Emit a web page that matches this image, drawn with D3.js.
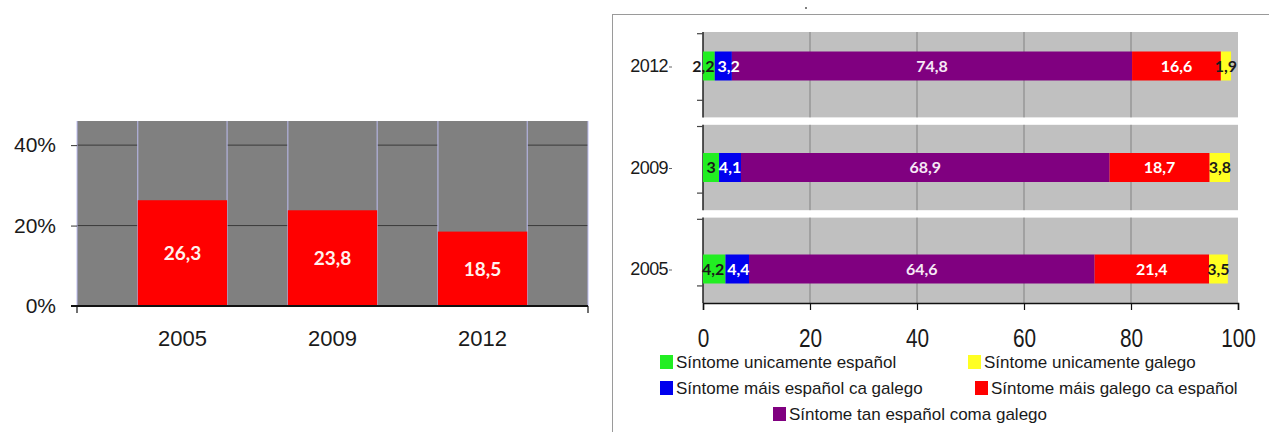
<!DOCTYPE html>
<html>
<head>
<meta charset="utf-8">
<script src="https://cdn.jsdelivr.net/npm/d3@7"></script>
<style>
  html, body { margin: 0; padding: 0; background: #fff; }
  svg { display: block; }
</style>
</head>
<body>
<svg id="chart" width="1269" height="432"></svg>
<script>
// ---- Left chart: share answering "máis galego ca español" ----
const years = ["2005", "2009", "2012"];
const shareGalegoFirst = [26.3, 23.8, 18.5];
const leftTicks = [0, 20, 40];

// ---- Right chart: identity distribution by survey year ----
const surveyYears = ["2012", "2009", "2005"];
const seriesNames = [
  "Síntome unicamente español",
  "Síntome máis español ca galego",
  "Síntome tan español coma galego",
  "Síntome máis galego ca español",
  "Síntome unicamente galego"
];
const onlySpanish   = [2.2, 3, 4.2];
const moreSpanish   = [3.2, 4.1, 4.4];
const bothEqual     = [74.8, 68.9, 64.6];
const moreGalician  = [16.6, 18.7, 21.4];
const onlyGalician  = [1.9, 3.8, 3.5];
const rightTicks = [0, 20, 40, 60, 80, 100];

const seriesColors = ["#22ee22", "#0000ee", "#800080", "#ff0000", "#ffff22"];
const labelColors  = ["#1a1a1a", "#ffffff", "#f6e8f6", "#ffffff", "#1a1a1a"];

const svg = d3.select("#chart");
const fmt = v => String(v).replace(".", ",");
const ARIAL = "'Liberation Sans', Arial, sans-serif";
const LABEL = "Lato, 'Open Sans', sans-serif";

// ================= LEFT =================
(function () {
  const x0 = 77, x1 = 588, yTop = 121, yBot = 306;
  const x = d3.scaleBand().domain(years).range([x0, x1]).paddingInner(0.405).paddingOuter(0.405);
  const y = d3.scaleLinear().domain([0, 46]).range([yBot, yTop]);
  const g = svg.append("g");

  g.append("rect").attr("x", x0).attr("y", yTop).attr("width", x1 - x0).attr("height", yBot - yTop)
    .attr("fill", "#808080");

  // gridlines only run through the gaps between bar columns
  const gaps = [[x0, x(years[0])]];
  years.forEach((yr, i) => {
    const s = x(yr) + x.bandwidth();
    const e = i < years.length - 1 ? x(years[i + 1]) : x1;
    gaps.push([s, e]);
  });
  leftTicks.filter(t => t > 0).forEach(t => {
    gaps.forEach(([a, b]) => {
      g.append("line").attr("x1", a).attr("x2", b).attr("y1", y(t)).attr("y2", y(t))
        .attr("stroke", "#3a3a3a").attr("stroke-width", 1);
    });
  });

  // column edges
  const edges = [x0, x1];
  years.forEach(yr => { edges.push(x(yr)); edges.push(x(yr) + x.bandwidth()); });
  edges.forEach(e => {
    g.append("line").attr("x1", e).attr("x2", e).attr("y1", yTop).attr("y2", yBot)
      .attr("stroke", "#bcbcf0").attr("stroke-width", 1);
  });

  g.selectAll("rect.bar").data(years).join("rect").attr("class", "bar")
    .attr("x", d => x(d)).attr("width", x.bandwidth())
    .attr("y", (d, i) => y(shareGalegoFirst[i]))
    .attr("height", (d, i) => yBot - y(shareGalegoFirst[i]))
    .attr("fill", "#ff0000");

  g.selectAll("text.val").data(years).join("text").attr("class", "val")
    .attr("x", d => x(d) + x.bandwidth() / 2)
    .attr("y", (d, i) => (y(shareGalegoFirst[i]) + yBot) / 2)
    .attr("dy", "0.36em").attr("text-anchor", "middle")
    .attr("font-family", LABEL).attr("font-weight", "bold")
    .attr("font-size", 19).attr("fill", "#fff2ee")
    .text((d, i) => fmt(shareGalegoFirst[i]));

  // y axis ticks + labels
  const yAxis = d3.axisLeft(y).tickValues(leftTicks).tickSize(6).tickFormat(d => d + "%");
  const ya = g.append("g").attr("transform", `translate(${x0},0)`).call(yAxis);
  ya.select(".domain").remove();
  ya.selectAll("line").attr("stroke", "#333");
  ya.selectAll("text").attr("font-family", ARIAL)
    .attr("font-size", 21).attr("fill", "#1a1a1a").attr("x", -21);

  // baseline
  g.append("line").attr("x1", x0 - 6).attr("x2", x1).attr("y1", yBot).attr("y2", yBot)
    .attr("stroke", "#111").attr("stroke-width", 2);
  [x0, x1].forEach(e => g.append("line").attr("x1", e).attr("x2", e).attr("y1", yBot).attr("y2", yBot + 7)
    .attr("stroke", "#111").attr("stroke-width", 1.2));

  g.selectAll("text.cat").data(years).join("text").attr("class", "cat")
    .attr("x", d => x(d) + x.bandwidth() / 2).attr("y", 346).attr("text-anchor", "middle")
    .attr("font-family", ARIAL).attr("font-size", 22)
    .attr("fill", "#1a1a1a").text(d => d);
})();

// ================= RIGHT =================
(function () {
  const g = svg.append("g");
  // frame
  g.append("line").attr("x1", 612).attr("x2", 1269).attr("y1", 14.5).attr("y2", 14.5)
    .attr("stroke", "#9a9a9a").attr("stroke-width", 1);
  g.append("line").attr("x1", 612.5).attr("x2", 612.5).attr("y1", 14).attr("y2", 432)
    .attr("stroke", "#9a9a9a").attr("stroke-width", 1);
  g.append("circle").attr("cx", 806).attr("cy", 8).attr("r", 1).attr("fill", "#555");

  const x = d3.scaleLinear().domain([0, 100]).range([703, 1238]);
  // grey panels, one per survey year
  const panel = d3.scaleBand().domain(surveyYears).range([32, 303]).paddingInner(0.08);
  const pw = panel.bandwidth();
  // bar centre line for each year
  const yc = d3.scalePoint().domain(surveyYears).range([66, 269]);
  const barH = 29;

  const rows = surveyYears.map((yr, i) => {
    const vals = [onlySpanish[i], moreSpanish[i], bothEqual[i], moreGalician[i], onlyGalician[i]];
    let acc = 0;
    return vals.map((v, k) => { const s = acc; acc += v; return { yr, k, v, s, e: acc }; });
  });

  surveyYears.forEach((yr, i) => {
    const top = panel(yr);
    g.append("rect").attr("x", x(0)).attr("y", top).attr("width", x(100) - x(0)).attr("height", pw)
      .attr("fill", "#c0c0c0");
    rightTicks.filter(t => t > 0 && t < 100).forEach(t => {
      g.append("line").attr("x1", x(t)).attr("x2", x(t)).attr("y1", top).attr("y2", top + pw)
        .attr("stroke", "#828282").attr("stroke-width", 1);
    });
    // panel axis
    g.append("line").attr("x1", x(0)).attr("x2", x(0)).attr("y1", top).attr("y2", top + pw)
      .attr("stroke", "#222").attr("stroke-width", 1.5);
    [0.02, 0.8].forEach(f => g.append("line").attr("x1", x(0) - 6).attr("x2", x(0))
      .attr("y1", top + pw * f).attr("y2", top + pw * f).attr("stroke", "#444").attr("stroke-width", 1.2));

    const cy = yc(yr);
    const segs = rows[i];
    g.selectAll(null).data(segs).join("rect")
      .attr("x", d => x(d.s)).attr("width", d => x(d.e) - x(d.s))
      .attr("y", cy - barH / 2).attr("height", barH)
      .attr("fill", d => seriesColors[d.k]);

    const labels = g.selectAll(null).data(segs).join("text")
      .attr("x", d => (x(d.s) + x(d.e)) / 2).attr("y", cy).attr("dy", "0.36em")
      .attr("text-anchor", "middle")
      .attr("font-family", LABEL).attr("font-weight", "bold")
      .attr("font-size", 16).attr("fill", d => labelColors[d.k])
      .text(d => fmt(d.v));

    // push neighbouring value labels apart when they collide
    const nodes = labels.nodes();
    const pos = segs.map(d => (x(d.s) + x(d.e)) / 2);
    const w = nodes.map(n => n.getComputedTextLength());
    for (let k = 1; k < nodes.length; k++) {
      const gap = (pos[k] - w[k] / 2) - (pos[k - 1] + w[k - 1] / 2);
      if (gap < 3) {
        const shift = (3 - gap) / 2;
        pos[k - 1] -= shift;
        pos[k] += shift;
      }
    }
    nodes.forEach((n, k) => d3.select(n).attr("x", pos[k]));

    g.append("text").attr("x", 668).attr("y", cy).attr("dy", "0.36em").attr("text-anchor", "end")
      .attr("font-family", ARIAL).attr("font-size", 18)
      .attr("fill", "#1a1a1a").attr("letter-spacing", "-0.6").text(yr);
    g.append("line").attr("x1", 669).attr("x2", 672).attr("y1", cy + 1).attr("y2", cy + 1)
      .attr("stroke", "#666").attr("stroke-width", 1);
  });

  // x axis
  const xa = g.append("g").attr("transform", "translate(0,303)")
    .call(d3.axisBottom(x).tickValues(rightTicks).tickSize(7));
  xa.select(".domain").attr("stroke", "#111").attr("stroke-width", 1.5);
  xa.selectAll("line").attr("stroke", "#111").attr("stroke-width", 1.2);
  xa.selectAll("text").attr("font-family", ARIAL)
    .attr("font-size", 26).attr("fill", "#1a1a1a")
    .attr("y", 44).attr("dy", null)
    .attr("transform", "scale(0.8,1)");

  // legend
  const legendPos = [
    { k: 0, x: 660, y: 362 },
    { k: 4, x: 968, y: 362 },
    { k: 1, x: 660, y: 388 },
    { k: 3, x: 975, y: 388 },
    { k: 2, x: 773, y: 414 }
  ];
  const lg = g.selectAll("g.leg").data(legendPos).join("g").attr("class", "leg")
    .attr("transform", d => `translate(${d.x},${d.y})`);
  lg.append("rect").attr("x", 0).attr("y", -7).attr("width", 13).attr("height", 14)
    .attr("fill", d => seriesColors[d.k]);
  lg.append("text").attr("x", 16).attr("y", 0).attr("dy", "0.36em")
    .attr("font-family", ARIAL).attr("font-size", 17)
    .attr("fill", "#1a1a1a").text(d => seriesNames[d.k]);
})();
</script>
</body>
</html>
